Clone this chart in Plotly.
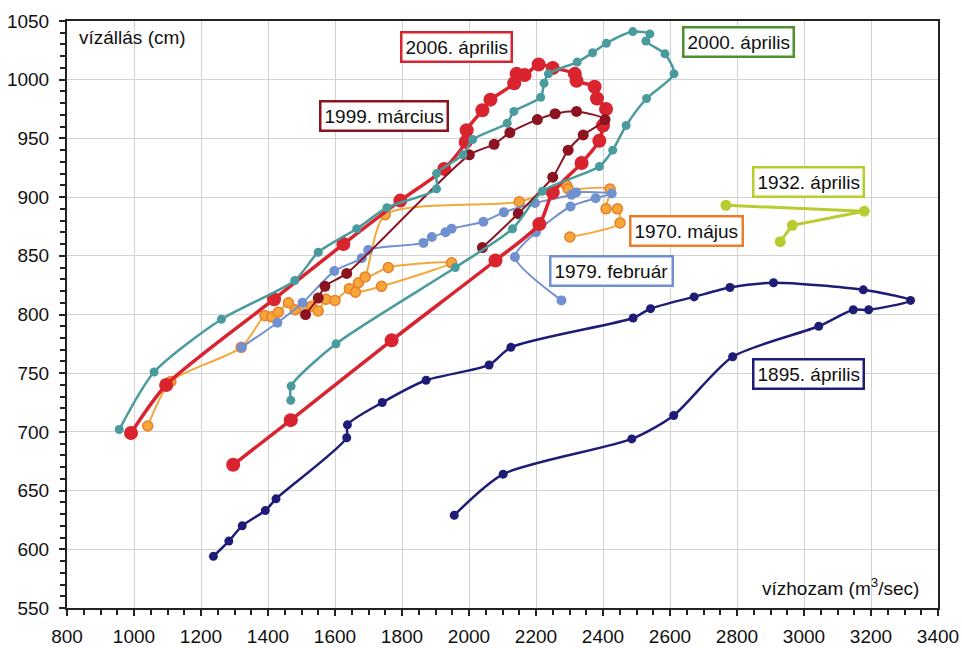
import plotly.graph_objects as go

# ---- data (discharge m3/s, water level cm) ----
x_1970 = [1041, 1110, 1320, 1391, 1411, 1431, 1461, 1481, 1530, 1550, 1573, 1600, 1643, 1661, 1739, 1948, 1759, 1670, 1690, 1750, 2150, 2291, 2296, 2421, 2409, 2443, 2451, 2301]
y_1970 = [705, 743, 772, 799, 798, 802, 810, 804, 807, 803, 813, 812, 822, 819, 824, 844, 840, 827, 832, 885, 896, 910, 907, 907, 890, 890, 878, 866]

x_1979 = [1321, 1428, 1503, 1598, 1680, 1699, 1864, 1889, 1930, 1948, 2043, 2104, 2197, 2306, 2320, 2426, 2378, 2303, 2200, 2137, 2276]
y_1979 = [772, 793, 810, 837, 848, 855, 861, 866, 870, 873, 879, 887, 895, 902, 904, 903, 899, 892, 870, 849, 812]

x_1895 = [1237, 1283, 1323, 1392, 1424, 1635, 1637, 1741, 1872, 2060, 2125, 2490, 2542, 2672, 2779, 2909, 3177, 3318, 3193, 3147, 3044, 2787, 2611, 2486, 2102, 1956]
y_1895 = [594, 607, 620, 633, 643, 695, 706, 725, 744, 757, 772, 797, 805, 815, 823, 827, 821, 812, 804, 804, 790, 764, 714, 694, 664, 629]

x_1932 = [2767, 3180, 2965, 2929]
y_1932 = [893, 888, 876, 862]

x_2006 = [991, 1096, 1418, 1625, 1795, 1926, 1990, 1993, 2040, 2064, 2135, 2142, 2166, 2208, 2250, 2316, 2321, 2375, 2382, 2409, 2400, 2389, 2336, 2250, 2210, 2079, 1769, 1468, 1296]
y_2006 = [699, 740, 813, 860, 897, 924, 947, 957, 974, 983, 997, 1005, 1004, 1013, 1010, 1005, 999, 994, 984, 975, 961, 948, 929, 904, 877, 846, 778, 710, 672]

x_1999 = [1512, 1550, 1570, 1635, 2001, 2075, 2122, 2204, 2257, 2321, 2406, 2341, 2296, 2250, 2147, 2040]
y_1999 = [800, 814, 824, 835, 936, 945, 955, 966, 971, 973, 966, 953, 940, 917, 886, 857]

x_2000 = [956, 1060, 1261, 1480, 1550, 1665, 1755, 1903, 1903, 1982, 2011, 2114, 2134, 2214, 2224, 2237, 2323, 2369, 2410, 2489, 2540, 2528, 2585, 2612, 2530, 2469, 2429, 2389, 2219, 2130, 1959, 1603, 1469, 1468]
y_2000 = [702, 751, 796, 829, 853, 873, 891, 907, 920, 936, 949, 963, 973, 985, 997, 1005, 1015, 1023, 1031, 1041, 1039, 1033, 1022, 1005, 984, 961, 940, 926, 905, 873, 840, 775, 739, 727]

labels = ["2006. április", "1999. március", "2000. április", "1932. április", "1970. május", "1979. február", "1895. április"]
label_x = [1964, 1746, 2803, 3012, 2648, 2424, 3012]
label_y = [1028, 969, 1032, 913, 871, 837, 749]
label_border = ["#d9232e", "#8b1420", "#4f8f2e", "#b8cc30", "#ec7d2a", "#7190d0", "#1f1c78"]

FONT = "Arial, Liberation Sans, sans-serif"

fig = go.Figure()

def add(x, y, color, lw, ms, shape="spline", mline=None):
    fig.add_trace(go.Scatter(
        x=x, y=y, mode="lines+markers",
        line=dict(color=color, width=lw, shape=shape, smoothing=0.7 if shape == "spline" else None),
        marker=dict(color=color, size=ms,
                    line=dict(color=mline or color, width=1.5 if mline else 0)),
        showlegend=False, hoverinfo="x+y"))

add(x_1970, y_1970, "#f5a83a", 2, 10, mline="#ec7d2a")
add(x_1979, y_1979, "#7190d0", 2, 10)
add(x_1895, y_1895, "#1f1c78", 2.5, 9)
add(x_1932, y_1932, "#b8cc30", 3, 11, shape="linear")
add(x_2006, y_2006, "#d9232e", 3.5, 14)
add(x_1999, y_1999, "#8b1420", 2, 11)
add(x_2000, y_2000, "#4a9b9e", 2.5, 9)

for t, lx, ly, bc in zip(labels, label_x, label_y, label_border):
    fig.add_annotation(x=lx, y=ly, xref="x", yref="y", text=t, showarrow=False,
                       font=dict(family=FONT, size=19, color="#111"),
                       bgcolor="white", bordercolor=bc, borderwidth=2.5, borderpad=3)

fig.add_annotation(x=0.012, y=0.972, xref="paper", yref="paper", text="vízállás (cm)",
                   showarrow=False, xanchor="left", yanchor="middle",
                   font=dict(family=FONT, size=19, color="#111"))
fig.add_annotation(x=0.981, y=0.036, xref="paper", yref="paper", text="vízhozam (m<sup>3</sup>/sec)",
                   showarrow=False, xanchor="right", yanchor="middle",
                   font=dict(family=FONT, size=19, color="#111"))

axis_common = dict(showline=True, linecolor="#222", linewidth=2, mirror=True,
                   showgrid=True, gridcolor="#d2d2d2", gridwidth=1,
                   ticks="outside", ticklen=6, tickcolor="#222", tickwidth=1.5,
                   tickfont=dict(family=FONT, size=19, color="#111"),
                   zeroline=False, automargin=False)

fig.update_xaxes(range=[800, 3400], dtick=200, tick0=800,
                 minor=dict(dtick=50, ticks="outside", ticklen=5, tickcolor="#222", showgrid=False),
                 ticklabelstandoff=4, **axis_common)
fig.update_yaxes(range=[550, 1050], dtick=50, tick0=550,
                 minor=dict(dtick=10, ticks="outside", ticklen=5, tickcolor="#222", showgrid=False),
                 ticklabelstandoff=6, **axis_common)

fig.update_layout(width=962, height=648,
                  margin=dict(l=67, r=24, t=21, b=40),
                  paper_bgcolor="white", plot_bgcolor="white",
                  font=dict(family=FONT))

fig.write_html("out.html", config={"displayModeBar": False},
               post_script="document.body.style.margin='0';document.body.style.overflow='hidden';")
